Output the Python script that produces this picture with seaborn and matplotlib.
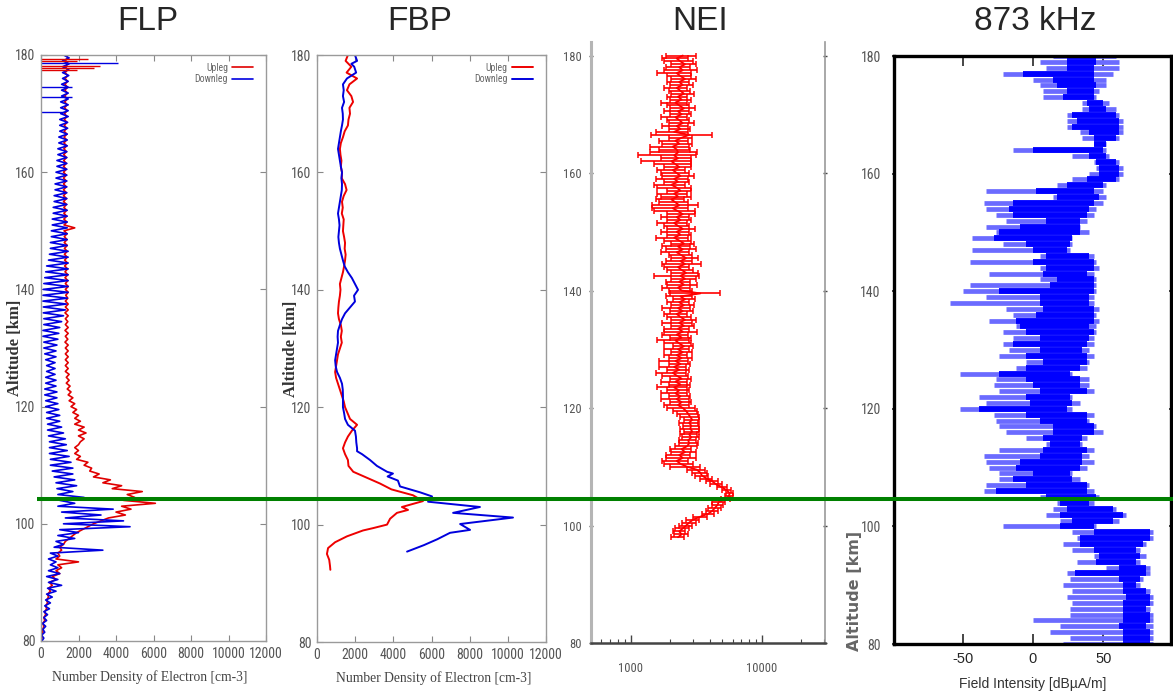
import matplotlib
matplotlib.use("Agg")
import matplotlib.pyplot as plt
from matplotlib import font_manager
import numpy as np
import pandas as pd
import seaborn as sns

# ---------------- data ----------------
# FLP probe: troughs at whole km, crests half a km higher
flp_km = list(range(80, 181))
flp_up_trough = [0, 50, 100, 100, 150, 200, 250, 300, 350, 400,
                 450, 600, 800, 900, 800, 900, 1000, 1300, 1700, 2200,
                 2800, 3600, 4000, 4300, 4400, 4600, 3800, 3300, 2800, 2600,
                 2300, 1900, 1800, 1800, 2100, 2000, 2000, 1800, 1800, 1700,
                 1600, 1500, 1450, 1400, 1350, 1350, 1300, 1300, 1300, 1300,
                 1300, 1280, 1300, 1280, 1300, 1300, 1280, 1300, 1300, 1320,
                 1300, 1300, 1280, 1280, 1260, 1260, 1250, 1250, 1240, 1240,
                 1230, 1230, 1220, 1220, 1220, 1200, 1200, 1200, 1200, 1200,
                 1200, 1200, 1210, 1210, 1220, 1220, 1230, 1230, 1240, 1240,
                 1250, 1250, 1260, 1260, 1270, 1270, 1280, 1280, 1290, 1290,
                 1300]
flp_up_crest = [50, 100, 150, 200, 250, 300, 350, 400, 500, 600,
                800, 1000, 1100, 2000, 1000, 1100, 1200, 1500, 1900, 2500,
                3200, 4500, 4800, 6100, 5000, 5400, 4300, 3700, 3100, 2700,
                2500, 2100, 2000, 2000, 2300, 2400, 2300, 2100, 2000, 1900,
                1800, 1700, 1600, 1550, 1500, 1500, 1450, 1450, 1450, 1450,
                1450, 1430, 1450, 1450, 1430, 1450, 1450, 1450, 1430, 1450,
                1450, 1430, 1430, 1420, 1420, 1400, 1400, 1400, 1390, 1390,
                1800, 1380, 1370, 1370, 1360, 1360, 1350, 1350, 1350, 1350,
                1350, 1350, 1360, 1360, 1370, 1370, 1380, 1380, 1390, 1390,
                1400, 1400, 1410, 1410, 1420, 1420, 1430, 1430, 1440, 1440]
flp_down_trough = [50, 30, 100, 80, 150, 150, 200, 250, 300, 350,
                   400, 300, 400, 500, 400, 500, 700, 800, 900, 1000,
                   1200, 1300, 1100, 900, 1000, 900, 850, 800, 700, 600,
                   500, 500, 450, 450, 450, 400, 350, 350, 300, 300,
                   250, 250, 200, 200, 250, 250, 300, 300, 250, 200,
                   150, 150, 100, 100, 150, 150, 120, 120, 100, 100,
                   120, 150, 200, 250, 300, 400, 450, 500, 500, 550,
                   550, 600, 600, 650, 650, 700, 700, 750, 750, 800,
                   800, 850, 850, 900, 900, 950, 950, 1000, 1000, 1000,
                   1050, 1050, 1050, 1100, 1100, 1100, 1150, 1150, 1150, 1150,
                   1200]
flp_down_crest = [150, 200, 250, 300, 350, 450, 500, 600, 800, 1100,
                  900, 1000, 900, 800, 900, 3300, 1200, 1800, 2000, 4750,
                  4400, 3200, 3850, 1800, 2300, 1700, 1900, 1800, 1700, 1700,
                  1600, 1500, 1400, 1350, 1300, 1200, 1100, 1000, 1000, 950,
                  900, 850, 850, 800, 800, 750, 750, 750, 800, 800,
                  850, 900, 950, 1000, 1100, 1200, 1300, 1350, 1400, 1450,
                  1450, 1450, 1450, 1450, 1450, 1450, 1450, 1400, 1400, 1400,
                  1400, 1400, 1400, 1400, 1380, 1380, 1380, 1380, 1380, 1380,
                  1380, 1380, 1380, 1380, 1400, 1400, 1400, 1420, 1420, 1450,
                  1450, 1450, 1450, 1450, 1450, 1450, 1480, 1480, 1500, 1500]
flp_up_spike_alt = [179.3, 178.9, 178.2, 177.8, 177.4]
flp_up_spike_ne = [2500, 1900, 3150, 2800, 1900]
flp_down_spike_alt = [178.6, 174.5, 172.8, 170.3]
flp_down_spike_ne = [4100, 1650, 1650, 1300]

# FBP probe
fbp_up_alt = [180, 179, 178, 177, 176, 175, 174, 173, 172, 171, 170, 169, 168, 167,
              166, 165, 164, 163, 162, 161, 160, 159, 158, 157, 156, 155, 154, 153,
              152, 151, 150, 149, 148, 147, 146, 145, 144, 143, 142, 141, 140, 139,
              138, 137, 136, 135, 134, 133, 132, 131, 130, 129, 128, 127, 126, 125,
              124, 123, 122, 121, 120, 119, 118, 117, 116, 115, 114, 113, 112, 111,
              110, 109, 108, 107, 106, 105, 104, 103, 102.5, 102, 101, 100, 99.4, 99,
              98, 97, 96, 95, 94, 93, 92.3]
fbp_up_ne = [1620, 1500, 1800, 1550, 2100, 1700, 1570, 1800, 1890, 1700, 1730, 1650, 1620, 1450,
             1360, 1250, 1200, 1230, 1280, 1250, 1310, 1300, 1470, 1550, 1400, 1310, 1350, 1300,
             1400, 1380, 1360, 1420, 1470, 1450, 1500, 1470, 1420, 1360, 1280, 1200, 1230, 1200,
             1150, 1120, 1100, 1150, 1250, 1300, 1250, 1300, 1200, 1100, 1050, 1000, 950, 1000,
             1100, 1200, 1300, 1400, 1470, 1600, 1730, 2100, 1830, 1620, 1470, 1360, 1470, 1620,
             1650, 1900, 2600, 3300, 3900, 5030, 5550, 4450, 4770, 4190, 3830, 3670, 2940, 2410,
             1570, 950, 580, 520, 640, 680, 700]
fbp_down_alt = [180, 179, 178.5, 178, 177, 176, 175, 174, 173, 172, 171, 170, 169, 168,
                167, 166, 165, 164, 163, 162, 161, 160, 159, 158, 157, 156, 155, 154,
                153, 152, 151, 150, 149, 148, 147, 146, 145, 144, 143, 142, 141, 140,
                139, 138, 137, 136, 135, 134, 133, 132, 131, 130, 129, 128, 127, 126,
                125, 124, 123, 122, 121, 120, 119, 118, 117, 116, 115, 114, 113, 112.5,
                112, 111, 110, 109, 108.7, 108.2, 107.5, 106.5, 105.5, 104.8, 103.9, 103.0,
                102.0, 101.2, 100.1, 99.1, 98.6, 97.5, 96.5, 95.4]
fbp_down_ne = [1990, 2100, 1800, 1950, 2050, 1570, 1360, 1400, 1360, 1420, 1310, 1350, 1360, 1310,
               1250, 1200, 1150, 1100, 1150, 1200, 1250, 1310, 1280, 1310, 1300, 1250, 1200, 1150,
               1100, 1150, 1180, 1150, 1120, 1150, 1200, 1280, 1360, 1450, 1620, 1830, 1990, 2150,
               1940, 1990, 1730, 1470, 1310, 1200, 1100, 1080, 1100, 1050, 1000, 950, 980, 1050,
               1200, 1310, 1350, 1360, 1360, 1360, 1420, 1470, 1620, 1990, 2040, 2060, 2100, 2100,
               2360, 2780, 3140, 3670, 3980, 3700, 4240, 4350, 5400, 6030, 5820, 8540,
               7130, 10270, 7500, 8020, 6970, 6300, 5600, 4720]

# NEI: every 0.5 km from 98 to 180 km
nei_alt = np.arange(98.0, 180.01, 0.5)
nei_ne = [2300, 2450, 2350, 2500, 2650, 2800, 3000, 3400, 3900,
          4200, 4400, 4600, 4700, 5300, 5600, 5700, 5400, 5000,
          4500, 4200, 3800, 3500, 3400, 3200, 2700, 2400, 2250,
          2500, 2350, 2600, 2450, 2700, 2800, 2750, 2900, 2800,
          2950, 2850, 2900, 2800, 2950, 2850, 2750, 2650, 2500,
          2300, 2450, 2250, 2400, 2200, 2350, 2150, 2400, 2200,
          2450, 2250, 2100, 2350, 2150, 2400, 2200, 2450, 2250,
          2500, 2300, 2550, 2350, 2200, 2450, 2250, 2500, 2300,
          2550, 2350, 2600, 2400, 2250, 2500, 2300, 2550, 2350,
          2600, 2400, 3400, 2450, 2300, 2550, 2350, 2600, 2400,
          2650, 2450, 2300, 2600, 2400, 2650, 2450, 2250, 2500,
          2300, 2550, 2350, 2150, 2400, 2250, 2500, 2300, 2150,
          2400, 2250, 2500, 2300, 2100, 2350, 2200, 2050, 2300,
          2150, 2400, 2250, 2050, 2300, 2150, 2400, 2250, 2100,
          2350, 2200, 2050, 2300, 2150, 2300, 2250, 2100, 2350,
          2200, 2450, 2800, 2150, 2400, 2250, 2500, 2350, 2200,
          2450, 2300, 2550, 2350, 2200, 2450, 2300, 2550, 2400,
          2250, 2500, 2350, 2600, 2400, 2250, 2500, 2350, 2600,
          2400, 2250, 2500]
nei_err = [250, 300, 250, 300, 300, 350, 350, 400, 400,
           450, 500, 450, 500, 450, 400, 350, 400, 450,
           450, 450, 400, 400, 450, 500, 700, 600, 500,
           650, 500, 550, 450, 500, 450, 400, 450, 400,
           400, 450, 400, 450, 400, 450, 500, 550, 600,
           500, 450, 550, 450, 500, 450, 550, 450, 500,
           450, 500, 550, 450, 500, 450, 550, 500, 450,
           450, 500, 450, 550, 600, 450, 500, 700, 500,
           500, 600, 550, 500, 450, 500, 550, 500, 450,
           500, 550, 1400, 500, 550, 650, 500, 550, 900,
           600, 550, 500, 850, 550, 600, 500, 550, 650,
           550, 500, 550, 600, 500, 550, 600, 500, 550,
           500, 550, 600, 800, 650, 900, 550, 500, 600,
           550, 500, 650, 550, 500, 600, 650, 550, 500,
           550, 700, 850, 600, 1000, 900, 600, 700, 600,
           550, 500, 1380, 600, 450, 500, 550, 450, 500,
           450, 500, 550, 450, 500, 450, 400, 500, 450,
           450, 500, 450, 550, 500, 650, 700, 500, 550,
           600, 500, 650]

# 873 kHz field intensity, one row per km (80 .. 180)
fi_km = list(range(80, 181))
fi_min = [21, 26, 12, 19, 0, 26, 26, 28, 24, 28,
          21, 26, 24, 52, 31, 43, 28, 21, 31, 28,
          -21, 19, 9, 14, 17, 5, -35, -33, -24, -24,
          -31, -33, -35, -24, 9, -5, -19, -24, -26, -28,
          -52, -33, -38, -24, -28, -26, -52, -12, -5, -24,
          -17, -21, -14, -21, -12, -31, -14, -19, -59, -33,
          -50, -45, 5, -31, 5, -45, 5, -43, -21, -43,
          -26, -33, -19, -26, -33, -35, 14, -33, 17, 28,
          40, 45, 43, 28, -14, 43, 35, 33, 24, 24,
          24, 35, 35, 7, 7, 5, 0, -21, 9, 5,
          14]
fi_max = [85, 85, 85, 85, 85, 85, 83, 85, 85, 83,
          76, 78, 83, 83, 76, 80, 76, 80, 85, 85,
          45, 61, 66, 59, 43, 47, 43, 40, 33, 28,
          38, 43, 40, 43, 35, 38, 50, 45, 40, 43,
          28, 33, 28, 43, 40, 40, 28, 38, 40, 43,
          40, 43, 43, 45, 45, 47, 45, 47, 43, 43,
          45, 45, 45, 43, 47, 45, 43, 26, 28, 28,
          40, 33, 38, 43, 45, 50, 52, 50, 52, 61,
          64, 64, 61, 54, 52, 52, 61, 64, 64, 64,
          61, 59, 54, 45, 47, 52, 52, 57, 61, 61,
          59]
fi_core_lo = [64, 64, 64, 61, 64, 64, 64, 64, 66, 64,
              64, 61, 30, 61, 45, 47, 43, 33, 33, 43,
              19, 28, 19, 24, 19, 9, -26, -5, -14, 0,
              -12, -9, 5, 7, 12, 7, 14, 14, 5, -5,
              -38, -2, -5, 5, 0, -5, -24, -5, 7, -5,
              5, -14, 5, -5, -9, -12, 2, 7, 5, 5,
              -24, 12, 17, 7, 9, 0, 9, 0, -5, -28,
              -24, -9, 9, -14, -17, -14, 17, 2, 24, 38,
              47, 47, 45, 40, 0, 43, 43, 40, 28, 31,
              28, 40, 38, 21, 24, 17, 14, -7, 24, 24,
              24]
fi_core_hi = [83, 83, 83, 80, 83, 83, 80, 83, 83, 80,
              73, 76, 80, 80, 73, 76, 73, 78, 83, 83,
              43, 57, 64, 57, 40, 45, 38, 38, 28, 26,
              33, 35, 35, 38, 33, 35, 43, 43, 38, 38,
              24, 28, 26, 38, 33, 33, 26, 33, 38, 38,
              35, 38, 40, 43, 40, 43, 43, 43, 40, 40,
              43, 43, 43, 38, 43, 43, 40, 24, 26, 28,
              33, 33, 33, 38, 40, 43, 47, 43, 50, 59,
              61, 61, 59, 52, 50, 52, 59, 61, 61, 61,
              59, 52, 50, 43, 43, 45, 43, 43, 43, 45,
              45]

sporadic_e_km = 104.2

# ---------------- drawing ----------------
W, H = 1173, 695
sns.set_theme(style="ticks")


def first_font(names):
    for n in names:
        try:
            font_manager.findfont(n, fallback_to_default=False)
            return n
        except ValueError:
            pass
    return None


narrow = first_font(["Roboto Condensed", "Liberation Sans Narrow", "DejaVu Sans Condensed",
                     "Open Sans Condensed"])
serif_narrow = first_font(["DejaVu Serif Condensed", "Liberation Serif"])
sans = ["Liberation Sans", "DejaVu Sans"]
serif = [serif_narrow or "Liberation Serif", "DejaVu Serif"]
tick_font = [narrow] + sans if narrow else sans
tick_size = 10 if narrow else 8.5

plt.rcParams["font.family"] = tick_font
plt.rcParams["axes.unicode_minus"] = False

fig = plt.figure(figsize=(W / 100, H / 100), dpi=100)


def box(x0, y0, x1, y1):
    return [x0 / W, 1 - y1 / H, (x1 - x0) / W, (y1 - y0) / H]


def zigzag(trough, crest):
    alt, ne = [], []
    for i, km in enumerate(flp_km):
        alt.append(km)
        ne.append(trough[i])
        if i < len(crest):
            alt.append(km + 0.5)
            ne.append(crest[i])
    return pd.DataFrame({"alt": alt, "ne": ne})


def density_axes(ax, xlabel_x):
    ax.set_xlim(0, 12000)
    ax.set_ylim(80, 180)
    ax.set_xticks(range(0, 12001, 2000))
    ax.set_yticks(range(80, 181, 20))
    for s in ax.spines.values():
        s.set_color("#9a9a9a")
        s.set_linewidth(1)
    ax.tick_params(direction="in", top=True, right=True, length=4, width=0.8,
                   color="#888888", labelcolor="#555555", labelsize=tick_size, pad=4)
    ax.set_xlabel("Number Density of Electron [cm-3]", family=serif, fontsize=9.8,
                  color="#444444")
    ax.xaxis.set_label_coords(xlabel_x, -0.05)
    ax.set_ylabel("Altitude [km]", family=serif, fontsize=12, fontweight="bold",
                  color="#333333")
    ax.yaxis.set_label_coords(-0.08, 0.5)
    leg = ax.legend(loc="upper right", bbox_to_anchor=(0.965, 0.995), frameon=False,
                    markerfirst=False, fontsize=7, handlelength=2.2, labelspacing=0.15,
                    borderpad=0, handletextpad=0.4)
    for t in leg.get_texts():
        t.set_color("#666666")


# FLP
ax1 = fig.add_axes(box(41, 55, 266, 641))
up = zigzag(flp_up_trough, flp_up_crest)
down = zigzag(flp_down_trough, flp_down_crest)
sns.lineplot(data=up, x="ne", y="alt", sort=False, estimator=None, color="#e00000",
             lw=1.2, ax=ax1, label="Upleg")
sns.lineplot(data=down, x="ne", y="alt", sort=False, estimator=None, color="#0000e0",
             lw=1.2, ax=ax1, label="Downleg")
ax1.hlines(flp_up_spike_alt, 0, flp_up_spike_ne, colors="#e00000", lw=1)
ax1.hlines(flp_down_spike_alt, 0, flp_down_spike_ne, colors="#0000e0", lw=1)
density_axes(ax1, 0.485)

# FBP
ax2 = fig.add_axes(box(317, 55, 546, 642))
sns.lineplot(x=fbp_up_ne, y=fbp_up_alt, sort=False, estimator=None, color="#ee0000",
             lw=1.4, ax=ax2, label="Upleg")
sns.lineplot(x=fbp_down_ne, y=fbp_down_alt, sort=False, estimator=None, color="#0000dd",
             lw=1.4, ax=ax2, label="Downleg")
density_axes(ax2, 0.51)

# NEI
ax3 = fig.add_axes(box(591, 42, 825, 643))
ax3.errorbar(nei_ne, nei_alt, xerr=nei_err, fmt="-", color="#ff0000", lw=1.3,
             elinewidth=1.2, capsize=2.2, capthick=1.1)
ax3.set_xscale("log")
ax3.set_xlim(500, 30300)
ax3.set_ylim(80, 182.3)
ax3.set_yticks(range(80, 181, 20))
ax3.set_xticks([1000, 10000])
ax3.set_xticklabels(["1000", "10000"])
ax3.spines["top"].set_visible(False)
ax3.spines["left"].set_color("#b5b5b5")
ax3.spines["left"].set_linewidth(2.2)
ax3.spines["right"].set_color("#999999")
ax3.spines["right"].set_linewidth(1.2)
ax3.spines["bottom"].set_color("#444444")
ax3.spines["bottom"].set_linewidth(1.8)
ax3.tick_params(axis="y", direction="inout", length=3, width=1, color="#444444",
                right=True, labelsize=tick_size - 1, labelcolor="#555555", pad=5)
ax3.tick_params(axis="x", which="major", direction="in", length=6, width=1,
                color="#444444", labelsize=tick_size - 1, labelcolor="#555555", pad=14)
ax3.tick_params(axis="x", which="minor", direction="in", length=3, width=0.8,
                color="#444444")

# 873 kHz
ax4 = fig.add_axes(box(894, 56, 1171, 644))
ax4.hlines(fi_km, fi_min, fi_max, colors="#6b6bff", lw=3.4)
ax4.hlines(fi_km, fi_core_lo, fi_core_hi, colors="#0000ff", lw=4.2)
ax4.set_xlim(-98.6, 97.9)
ax4.set_ylim(80, 180)
ax4.set_xticks([-50, 0, 50])
ax4.set_yticks(range(80, 181, 20))
for s in ax4.spines.values():
    s.set_color("black")
    s.set_linewidth(2.4)
ax4.tick_params(axis="x", direction="in", top=True, length=7, width=1.2,
                labelsize=10.5, pad=6)
for lab in ax4.get_xticklabels():
    lab.set_fontfamily(sans)
ax4.tick_params(axis="y", direction="inout", right=True, length=3, width=1.2,
                labelsize=tick_size, labelcolor="#555555", pad=8)
ax4.set_xlabel("Field Intensity [dB\u00b5A/m]", family=sans, fontsize=10, color="#333333")
ax4.xaxis.set_label_coords(0.5, -0.056)
ax4.set_ylabel("Altitude [km]", family=["DejaVu Sans"], fontsize=11.5,
               fontweight="bold", color="#666666")
ax4.yaxis.set_label_coords(-0.115, 0.09)

# green sporadic-E marker running across all panels
ax5 = fig.add_axes(box(37, 55, 1173, 641))
ax5.set_ylim(80, 180)
ax5.set_xlim(0, 1)
ax5.axhline(sporadic_e_km, color="#008000", lw=2.9)
ax5.axis("off")

# panel titles
for x, t in [(148, "FLP"), (420, "FBP"), (700, "NEI"), (1035, "873 kHz")]:
    fig.text(x / W, 1 - 22 / H, t, ha="center", va="center", fontsize=24, family=sans)

fig.savefig("out.png", dpi=100)
